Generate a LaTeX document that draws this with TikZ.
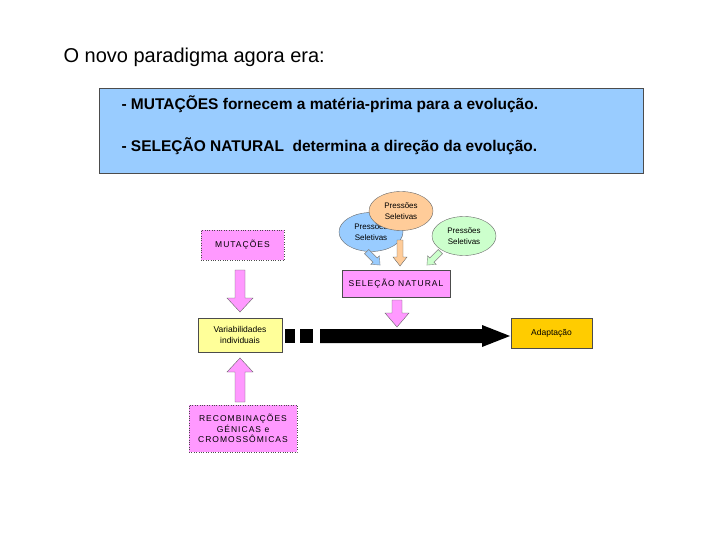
\documentclass[tikz,border=0pt]{standalone}
\usepackage{fontspec}
\setmainfont{Liberation Sans}
\usetikzlibrary{shapes.arrows,shapes.geometric}
\definecolor{lblue}{HTML}{99CCFF}
\definecolor{pinkc}{HTML}{FF99FF}
\definecolor{ylw}{HTML}{FFFF99}
\definecolor{orng}{HTML}{FFCC00}
\definecolor{elb}{HTML}{99CCFF}
\definecolor{elo}{HTML}{FFCC99}
\definecolor{elg}{HTML}{CCFFCC}
\begin{document}
\begin{tikzpicture}[x=1pt,y=-1pt,
 boxs/.style={draw=black!70,inner sep=0pt,align=center,font=\fontsize{8.5}{10.5}\selectfont},
 sp/.style={font=\fontsize{8.5}{10.5}\selectfont\addfontfeatures{LetterSpace=12}},
 ell/.style={draw=black!60,ellipse,minimum width=64pt,minimum height=39pt,inner sep=0pt,align=center,font=\fontsize{8}{11}\selectfont},
 parr/.style={fill=pinkc,draw=black!60},
 ]
\useasboundingbox (0,0) rectangle (720,540);
\node[anchor=west,font=\fontsize{20}{22}\selectfont] (title) at (60,57) {O novo paradigma agora era:};
\node[draw=black!70,fill=lblue,minimum width=544pt,minimum height=85pt,anchor=north west] (blue) at (99,88) {};
\node[anchor=west,font=\bfseries\fontsize{15.5}{18}\selectfont] (l1) at (118,104) {- MUTAÇÕES fornecem a matéria-prima para a evolução.};
\node[anchor=west,font=\bfseries\fontsize{15.5}{18}\selectfont] (l2) at (118,146) {- SELEÇÃO NATURAL\ \ determina a direção da evolução.};
\node[boxs,sp,fill=pinkc,dotted,minimum width=83pt,minimum height=30pt] (mut) at (242.5,245) {MUTAÇÕES};
\node[boxs,fill=ylw,minimum width=84pt,minimum height=34pt] (var) at (240,335) {Variabilidades\\individuais};
\node[boxs,sp,fill=pinkc,dotted,minimum width=108pt,minimum height=47pt] (rec) at (243,428.5) {RECOMBINAÇÕES\\GÉNICAS e\\CROMOSSÔMICAS};
\node[boxs,sp,fill=pinkc,minimum width=108pt,minimum height=27pt] (sel) at (396,283.5) {SELEÇÃO NATURAL};
\node[boxs,fill=orng,minimum width=81pt,minimum height=30pt] (ad) at (551.5,333) {Adaptação};
\node[ell,fill=elb] (e1) at (371,232) {Pressões\\Seletivas};
\node[ell,fill=elo] (e2) at (401,211) {Pressões\\Seletivas};
\node[ell,fill=elg] (e3) at (464,236) {Pressões\\Seletivas};
% pink block arrows
\draw[parr] (235,270)--(245,270)--(245,298)--(253,298)--(240,312)--(227,298)--(235,298)--cycle;
\draw[parr] (235,402)--(245,402)--(245,372)--(253,372)--(240,358)--(227,372)--(235,372)--cycle;
\draw[parr] (392,300)--(402,300)--(402,313)--(409,313)--(397,327)--(385,313)--(392,313)--cycle;
% small arrows
\draw[fill=elo,draw=black!60] (397,240)--(403,240)--(403,257)--(407,257)--(400,266)--(393,257)--(397,257)--cycle;
\begin{scope}[shift={(373,258)},rotate=-45]
\draw[fill=elb,draw=black!50] (-9,-3)--(3,-3)--(3,-6)--(10,0)--(3,6)--(3,3)--(-9,3)--cycle;
\end{scope}
\begin{scope}[shift={(434,258)},rotate=-135]
\draw[fill=elg,draw=black!50] (-9,-3)--(3,-3)--(3,-6)--(10,0)--(3,6)--(3,3)--(-9,3)--cycle;
\end{scope}
% black arrow
\fill (285,329) rectangle (295,343);
\fill (300,329) rectangle (313,343);
\fill (320,329)--(482,329)--(482,325)--(510,336)--(482,347)--(482,343)--(320,343)--cycle;
\end{tikzpicture}
\end{document}
